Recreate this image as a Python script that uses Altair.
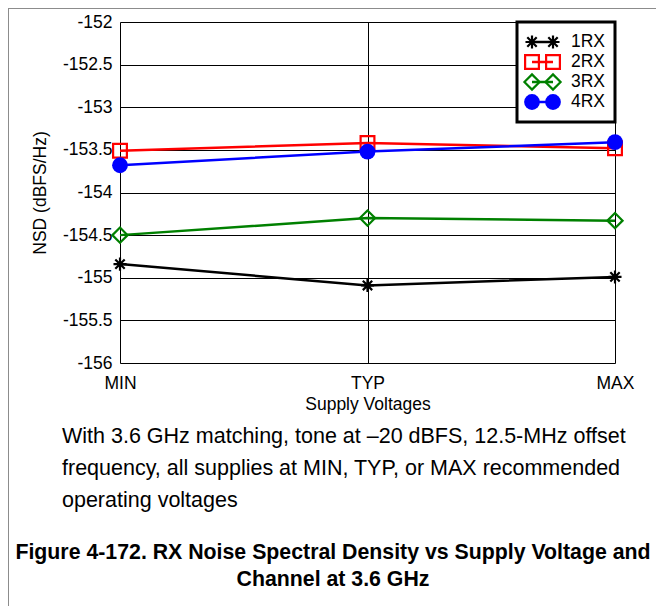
import altair as alt
import pandas as pd

# ---- data ----
supply = ["MIN", "TYP", "MAX"]
series = ["1RX", "2RX", "3RX", "4RX"]
nsd_1rx = [-154.84, -155.09, -154.99]
nsd_2rx = [-153.51, -153.42, -153.48]
nsd_3rx = [-154.50, -154.30, -154.33]
nsd_4rx = [-153.68, -153.52, -153.41]
y_ticks = [-156, -155.5, -155, -154.5, -154, -153.5, -153, -152.5, -152]
caption_lines = [
    "With 3.6 GHz matching, tone at \u201320 dBFS, 12.5-MHz offset",
    "frequency, all supplies at MIN, TYP, or MAX recommended",
    "operating voltages",
]
title_lines = [
    "Figure 4-172. RX Noise Spectral Density vs Supply Voltage and",
    "Channel at 3.6 GHz",
]

values = [nsd_1rx, nsd_2rx, nsd_3rx, nsd_4rx]
colors = ["#000000", "#ff0000", "#008000", "#0000ff"]
asterisk = "M-1,0L1,0M0,-1L0,1M-0.72,-0.72L0.72,0.72M-0.72,0.72L0.72,-0.72"
shapes = [asterisk, "square", "diamond", "circle"]
sizes = [170, 190, 230, 250]
filled = [False, False, False, True]

W, H = 495, 341
FONT = "Liberation Sans"
FS = 17.5

rows = []
for s, vals in zip(series, values):
    for sup, v in zip(supply, vals):
        rows.append({"supply": sup, "series": s, "nsd": v})
df = pd.DataFrame(rows)

x_enc = alt.X(
    "supply:N",
    sort=supply,
    scale=alt.Scale(type="point", padding=0, domain=supply),
    axis=alt.Axis(
        title="Supply Voltages", labelAngle=0, ticks=False, domain=False,
        labelPadding=11, labelFontSize=FS, labelFont=FONT, labelColor="black",
        titleFontSize=FS, titleFont=FONT, titleFontWeight="normal", titleColor="black",
        titleY=41, titleBaseline="middle",
        grid=True, gridColor="black", gridWidth=1, gridOpacity=1,
    ),
)
y_enc = alt.Y(
    "nsd:Q",
    scale=alt.Scale(domain=[-156, -152], nice=False, zero=False),
    axis=alt.Axis(
        title="NSD (dBFS/Hz)", values=y_ticks, labelExpr="'' + datum.value",
        ticks=False, domain=False, labelPadding=8,
        labelFontSize=FS, labelFont=FONT, labelColor="black",
        titleFontSize=FS, titleFont=FONT, titleFontWeight="normal", titleColor="black",
        titleX=-80, titleY=H / 2, titleAngle=-90, titleAlign="center", titleBaseline="middle",
        grid=True, gridColor="black", gridWidth=1, gridOpacity=1,
    ),
)

base = alt.Chart(df)
layers = []
for i, s in enumerate(series):
    d = base.transform_filter(alt.datum.series == s)
    layers.append(d.mark_line(color=colors[i], strokeWidth=2.5).encode(x=x_enc, y=y_enc))
    layers.append(
        d.mark_point(
            shape=shapes[i], size=sizes[i], filled=filled[i], color=colors[i],
            strokeWidth=2.2, opacity=1,
        ).encode(x=x_enc, y=y_enc)
    )

# ---- legend (drawn manually, inside the plot, top-right) ----
one = alt.Chart(pd.DataFrame({"k": [0]}))
layers.append(
    one.mark_rect(fill="white", stroke="black", strokeWidth=3).encode(
        x=alt.value(397), x2=alt.value(495), y=alt.value(0), y2=alt.value(100)
    )
)
for i, s in enumerate(series):
    ly = 20 + 20 * i
    ld = alt.Chart(pd.DataFrame({"series": [s]}))
    layers.append(
        ld.mark_rule(color=colors[i], strokeWidth=2.5).encode(
            x=alt.value(412), x2=alt.value(433), y=alt.value(ly)
        )
    )
    for lx in (412, 433):
        layers.append(
            ld.mark_point(
                shape=shapes[i], size=sizes[i], filled=filled[i], color=colors[i],
                strokeWidth=2.2, opacity=1,
            ).encode(x=alt.value(lx), y=alt.value(ly))
        )
    layers.append(
        ld.mark_text(align="left", baseline="middle", font=FONT, fontSize=FS, color="black").encode(
            text="series:N", x=alt.value(451), y=alt.value(ly)
        )
    )

# ---- caption and figure title below the plot ----
for j, line in enumerate(caption_lines):
    layers.append(
        alt.Chart(pd.DataFrame({"t": [line]})).mark_text(
            align="left", baseline="alphabetic", font=FONT, fontSize=21.5, color="black"
        ).encode(text="t:N", x=alt.value(-58), y=alt.value(421 + 32 * j))
    )
for j, line in enumerate(title_lines):
    layers.append(
        alt.Chart(pd.DataFrame({"t": [line]})).mark_text(
            align="center", baseline="alphabetic", font=FONT, fontSize=21.3,
            fontWeight="bold", color="black"
        ).encode(text="t:N", x=alt.value(213), y=alt.value(537 + 27 * j))
    )

# ---- thin outer border (top and left) ----
layers.append(
    one.mark_rule(color="#8c8c8c", strokeWidth=1).encode(
        x=alt.value(-112), x2=alt.value(536), y=alt.value(-13.5)
    )
)
layers.append(
    one.mark_rule(color="#8c8c8c", strokeWidth=1).encode(
        x=alt.value(-111.5), y=alt.value(-14), y2=alt.value(584)
    )
)

chart = alt.layer(*layers).properties(
    width=W, height=H,
    autosize=alt.AutoSizeParams(type="none"),
    padding={"left": 112, "top": 14, "right": 41, "bottom": 243},
).configure_view(stroke="black", strokeWidth=3).configure(background="white")

chart.save("out.html", embed_options={"renderer": "svg", "actions": False})
